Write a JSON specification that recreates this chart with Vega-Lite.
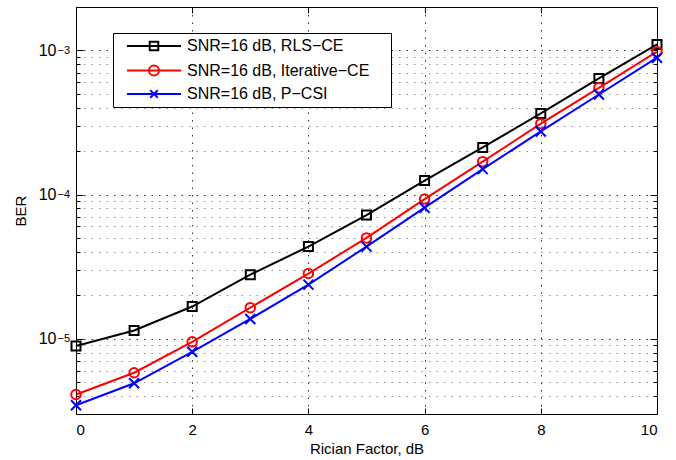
{
  "$schema": "https://vega.github.io/schema/vega-lite/v6.json",
  "autosize": "none",
  "width": 581,
  "height": 407,
  "padding": {"left": 76, "top": 7, "right": 19, "bottom": 46},
  "background": "white",
  "config": {
    "font": "Liberation Sans",
    "view": {"stroke": "black", "strokeWidth": 1},
    "axis": {
      "labelFont": "Liberation Sans",
      "titleFont": "Liberation Sans",
      "labelColor": "black",
      "titleColor": "black",
      "titleFontWeight": "normal",
      "labelFontSize": 15,
      "titleFontSize": 15,
      "domain": false,
      "tickColor": "black"
    },
    "legend": {"labelFontSize": 16, "labelFont": "Liberation Sans"}
  },
  "data": {
    "values": [
      {"series": "SNR=16 dB, RLS−CE", "x": 0, "ber": 8.9e-6},
      {"series": "SNR=16 dB, RLS−CE", "x": 1, "ber": 1.14e-5},
      {"series": "SNR=16 dB, RLS−CE", "x": 2, "ber": 1.67e-5},
      {"series": "SNR=16 dB, RLS−CE", "x": 3, "ber": 2.78e-5},
      {"series": "SNR=16 dB, RLS−CE", "x": 4, "ber": 4.35e-5},
      {"series": "SNR=16 dB, RLS−CE", "x": 5, "ber": 7.2e-5},
      {"series": "SNR=16 dB, RLS−CE", "x": 6, "ber": 1.25e-4},
      {"series": "SNR=16 dB, RLS−CE", "x": 7, "ber": 2.12e-4},
      {"series": "SNR=16 dB, RLS−CE", "x": 8, "ber": 3.65e-4},
      {"series": "SNR=16 dB, RLS−CE", "x": 9, "ber": 6.39e-4},
      {"series": "SNR=16 dB, RLS−CE", "x": 10, "ber": 1.1e-3},
      {"series": "SNR=16 dB, Iterative−CE", "x": 0, "ber": 4.1e-6},
      {"series": "SNR=16 dB, Iterative−CE", "x": 1, "ber": 5.8e-6},
      {"series": "SNR=16 dB, Iterative−CE", "x": 2, "ber": 9.5e-6},
      {"series": "SNR=16 dB, Iterative−CE", "x": 3, "ber": 1.64e-5},
      {"series": "SNR=16 dB, Iterative−CE", "x": 4, "ber": 2.83e-5},
      {"series": "SNR=16 dB, Iterative−CE", "x": 5, "ber": 5.0e-5},
      {"series": "SNR=16 dB, Iterative−CE", "x": 6, "ber": 9.3e-5},
      {"series": "SNR=16 dB, Iterative−CE", "x": 7, "ber": 1.69e-4},
      {"series": "SNR=16 dB, Iterative−CE", "x": 8, "ber": 3.1e-4},
      {"series": "SNR=16 dB, Iterative−CE", "x": 9, "ber": 5.5e-4},
      {"series": "SNR=16 dB, Iterative−CE", "x": 10, "ber": 9.8e-4},
      {"series": "SNR=16 dB, P−CSI", "x": 0, "ber": 3.45e-6},
      {"series": "SNR=16 dB, P−CSI", "x": 1, "ber": 4.9e-6},
      {"series": "SNR=16 dB, P−CSI", "x": 2, "ber": 8.1e-6},
      {"series": "SNR=16 dB, P−CSI", "x": 3, "ber": 1.37e-5},
      {"series": "SNR=16 dB, P−CSI", "x": 4, "ber": 2.37e-5},
      {"series": "SNR=16 dB, P−CSI", "x": 5, "ber": 4.35e-5},
      {"series": "SNR=16 dB, P−CSI", "x": 6, "ber": 8.1e-5},
      {"series": "SNR=16 dB, P−CSI", "x": 7, "ber": 1.5e-4},
      {"series": "SNR=16 dB, P−CSI", "x": 8, "ber": 2.74e-4},
      {"series": "SNR=16 dB, P−CSI", "x": 9, "ber": 4.94e-4},
      {"series": "SNR=16 dB, P−CSI", "x": 10, "ber": 8.9e-4}
    ]
  },
  "resolve": {"scale": {"color": "independent", "shape": "independent", "size": "independent"}, "axis": {"y": "independent", "x": "independent"}},
  "layer": [
    {
      "mark": {"type": "line", "strokeWidth": 2},
      "encoding": {
        "x": {
          "field": "x", "type": "quantitative",
          "scale": {"domain": [0, 10], "nice": false},
          "axis": {
            "orient": "bottom",
            "values": [0, 2, 4, 6, 8, 10],
            "format": "d",
            "title": "Rician Factor, dB",
            "grid": true,
            "gridDash": [1.5, 6],
            "gridColor": "#000000",
            "gridOpacity": 0.8,
            "tickSize": -6,
            "labelPadding": 14,
            "titlePadding": 4
          }
        },
        "y": {
          "field": "ber", "type": "quantitative",
          "scale": {"type": "log", "domain": [3e-6, 2e-3], "nice": false},
          "axis": {
            "orient": "left",
            "values": [4e-6, 5e-6, 6e-6, 7e-6, 8e-6, 9e-6, 1e-5, 2e-5, 3e-5, 4e-5, 5e-5, 6e-5, 7e-5, 8e-5, 9e-5, 1e-4, 2e-4, 3e-4, 4e-4, 5e-4, 6e-4, 7e-4, 8e-4, 9e-4, 1e-3],
            "labelExpr": "datum.value == 0.001 || datum.value == 0.0001 || datum.value == 0.00001 ? '10' : ''",
            "labelFontSize": 16,
            "title": "BER",
            "grid": true,
            "gridDash": [1.5, 6],
            "gridColor": {"condition": {"test": "datum.value == 0.001 || datum.value == 0.0001 || datum.value == 0.00001", "value": "#000000"}, "value": "#777777"},
            "gridOpacity": 0.8,
            "tickSize": {"condition": {"test": "datum.value == 0.001 || datum.value == 0.0001 || datum.value == 0.00001", "value": -7}, "value": -4},
            "labelPadding": 27,
            "titlePadding": 10
          }
        },
        "color": {
          "field": "series", "type": "nominal",
          "scale": {"domain": ["SNR=16 dB, RLS−CE", "SNR=16 dB, Iterative−CE", "SNR=16 dB, P−CSI"], "range": ["#000000", "#ff0000", "#0000ff"]},
          "legend": null
        }
      }
    },
    {
      "mark": {"type": "point", "filled": false, "strokeWidth": 2, "opacity": 1},
      "encoding": {
        "x": {"field": "x", "type": "quantitative", "axis": null},
        "y": {
          "field": "ber", "type": "quantitative",
          "axis": {
            "orient": "left",
            "values": [1e-5, 1e-4, 1e-3],
            "labelExpr": "datum.value == 0.001 ? '−3' : datum.value == 0.0001 ? '−4' : '−5'",
            "labelFontSize": 11,
            "labelAlign": "left",
            "labelDy": -8,
            "labelPadding": 19,
            "ticks": false,
            "grid": false,
            "domain": false,
            "title": null
          }
        },
        "color": {
          "field": "series", "type": "nominal",
          "scale": {"domain": ["SNR=16 dB, RLS−CE", "SNR=16 dB, Iterative−CE", "SNR=16 dB, P−CSI"], "range": ["#000000", "#ff0000", "#0000ff"]},
          "legend": null
        },
        "shape": {
          "field": "series", "type": "nominal",
          "scale": {"domain": ["SNR=16 dB, RLS−CE", "SNR=16 dB, Iterative−CE", "SNR=16 dB, P−CSI"], "range": ["square", "circle", "M-1,-1L1,1M1,-1L-1,1"]},
          "legend": null
        },
        "size": {
          "field": "series", "type": "ordinal",
          "scale": {"domain": ["SNR=16 dB, RLS−CE", "SNR=16 dB, Iterative−CE", "SNR=16 dB, P−CSI"], "range": [81, 100, 56]},
          "legend": null
        }
      }
    },
    {
      "transform": [{"filter": "datum.x > 100"}],
      "mark": {"type": "point", "filled": false, "strokeWidth": 2, "opacity": 1},
      "encoding": {
        "x": {
          "field": "x", "type": "quantitative",
          "axis": {"orient": "top", "values": [0, 2, 4, 6, 8, 10], "labels": false, "tickSize": -6, "grid": false, "domain": false, "title": null}
        },
        "y": {
          "field": "ber", "type": "quantitative",
          "axis": {
            "orient": "right",
            "values": [4e-6, 5e-6, 6e-6, 7e-6, 8e-6, 9e-6, 1e-5, 2e-5, 3e-5, 4e-5, 5e-5, 6e-5, 7e-5, 8e-5, 9e-5, 1e-4, 2e-4, 3e-4, 4e-4, 5e-4, 6e-4, 7e-4, 8e-4, 9e-4, 1e-3],
            "labels": false,
            "grid": false,
            "domain": false,
            "title": null,
            "tickSize": {"condition": {"test": "datum.value == 0.001 || datum.value == 0.0001 || datum.value == 0.00001", "value": -7}, "value": -4}
          }
        },
        "color": {
          "field": "series", "type": "nominal",
          "scale": {"domain": ["SNR=16 dB, RLS−CE", "SNR=16 dB, Iterative−CE", "SNR=16 dB, P−CSI"], "range": ["#000000", "#ff0000", "#0000ff"]},
          "legend": {
            "orient": "none", "legendX": 37, "legendY": 26,
            "title": ".", "titleOrient": "right", "titleOpacity": 0, "titleFontSize": 10, "titlePadding": 14,
            "symbolSize": 100, "symbolStrokeWidth": 2, "symbolOffset": 28, "labelOffset": 25,
            "labelFont": "Liberation Sans", "labelFontSize": 16, "labelColor": "black", "labelLimit": 400,
            "padding": 5, "rowPadding": 6.5, "strokeColor": "black", "fillColor": "white", "symbolOpacity": 1
          }
        },
        "shape": {
          "field": "series", "type": "nominal",
          "scale": {"domain": ["SNR=16 dB, RLS−CE", "SNR=16 dB, Iterative−CE", "SNR=16 dB, P−CSI"], "range": ["M-5.4,0H5.4M-0.85,-0.85H0.85V0.85H-0.85Z", "M-5.4,0H5.4M1,0A1,1,0,1,1,-1,0A1,1,0,1,1,1,0Z", "M-5.4,0H5.4M-0.75,-0.75L0.75,0.75M0.75,-0.75L-0.75,0.75"]},
          "legend": {
            "orient": "none", "legendX": 37, "legendY": 26,
            "title": ".", "titleOrient": "right", "titleOpacity": 0, "titleFontSize": 10, "titlePadding": 14,
            "symbolSize": 100, "symbolStrokeWidth": 2, "symbolOffset": 28, "labelOffset": 25,
            "labelFont": "Liberation Sans", "labelFontSize": 16, "labelColor": "black", "labelLimit": 400,
            "padding": 5, "rowPadding": 6.5, "strokeColor": "black", "fillColor": "white", "symbolOpacity": 1
          }
        }
      }
    }
  ]
}
